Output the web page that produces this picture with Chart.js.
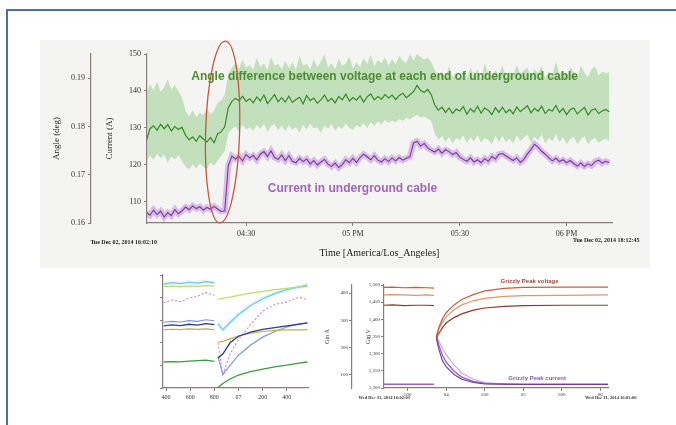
<!DOCTYPE html>
<html>
<head>
<meta charset="utf-8">
<script src="https://cdn.jsdelivr.net/npm/chart.js@4.4.0/dist/chart.umd.min.js"></script>
<style>
  body { margin: 0; width: 676px; height: 425px; background: #fff; position: relative; overflow: hidden; }
  #frame { position: absolute; left: 6px; top: 9px; width: 680px; height: 430px; border-top: 2px solid #4a6bb8; border-left: 2px solid #4a6bb8; }
  #panel { position: absolute; left: 40px; top: 40px; width: 610px; height: 228px; background: #f4f4f3; }
  canvas { position: absolute; }
  #main { left: 40px; top: 40px; width: 632px; height: 228px; }
  #swing { left: 150px; top: 270px; width: 172px; height: 135px; }
  #surge { left: 318px; top: 270px; width: 347px; height: 135px; }
</style>
</head>
<body>
<div id="frame"></div>
<div id="panel"></div>
<canvas id="main" width="632" height="228"></canvas>
<canvas id="swing" width="172" height="135"></canvas>
<canvas id="surge" width="347" height="135"></canvas>
<script>
  // ---- main chart: minutes after 16:00 ----
  const minutes = [
    2, 3, 4, 5, 6, 7, 8, 9, 10, 11,
    12, 13, 14, 15, 16, 17, 18, 19, 20, 21,
    22, 23, 24, 25, 26, 27, 28, 29, 30, 31,
    32, 33, 34, 35, 36, 37, 38, 39, 40, 41,
    42, 43, 44, 45, 46, 47, 48, 49, 50, 51,
    52, 53, 54, 55, 56, 57, 58, 59, 60, 61,
    62, 63, 64, 65, 66, 67, 68, 69, 70, 71,
    72, 73, 74, 75, 76, 77, 78, 79, 80, 81,
    82, 83, 84, 85, 86, 87, 88, 89, 90, 91,
    92, 93, 94, 95, 96, 97, 98, 99, 100, 101,
    102, 103, 104, 105, 106, 107, 108, 109, 110, 111,
    112, 113, 114, 115, 116, 117, 118, 119, 120, 121,
    122, 123, 124, 125, 126, 127, 128, 129, 130, 131,
    132
  ];

  const angleLine = [
    126.5, 129.8, 130.6, 129.4, 131.0, 129.8, 130.9, 129.2, 130.4, 129.6,
    130.2, 128.0, 126.8, 127.6, 126.4, 127.9, 127.0, 126.2, 127.4, 126.0,
    128.4, 129.0, 130.3, 135.5, 137.2, 138.0, 137.4, 138.6, 137.2, 137.9,
    136.8, 138.4, 137.3, 138.9, 136.6, 137.8, 139.0, 137.1, 138.2, 137.0,
    138.6, 136.9, 137.7, 138.3, 136.5, 138.8, 137.4, 138.1, 136.7, 137.6,
    138.9, 137.2, 138.0, 136.8, 138.5, 137.6, 139.1, 137.3, 138.2, 137.5,
    138.7, 137.0, 138.4, 139.2, 137.6, 138.5, 137.8, 139.0, 138.1, 138.9,
    137.7, 138.8, 139.4, 138.2, 139.0, 139.8, 141.5, 140.2, 139.6, 140.4,
    139.0, 136.2, 134.8, 135.6, 134.2, 135.4, 133.9, 135.1, 134.6, 135.8,
    133.7, 135.2, 134.3, 135.9, 134.0, 135.4, 134.8, 133.6, 135.5, 134.2,
    135.6, 134.1, 135.0, 133.8, 135.7, 134.4, 135.2, 136.0, 134.1, 135.3,
    134.5, 135.9, 133.9, 135.0, 134.6, 136.1, 134.2, 135.3, 133.6, 134.9,
    135.4, 133.8, 134.7, 135.6, 133.5, 134.8, 135.2, 133.9, 134.6, 135.0,
    134.4
  ];

  const angleHigh = [
    139.5, 141.8, 140.2, 142.5, 139.8, 141.0, 143.2, 140.4, 141.6, 139.9,
    138.2, 134.6, 133.2, 134.8, 132.9, 134.1, 133.5, 135.2, 133.8, 134.6,
    136.8, 137.5, 139.0, 144.5, 146.2, 147.8, 145.9, 148.4, 146.3, 147.1,
    145.8, 148.9, 146.4, 147.5, 145.6, 149.2, 146.8, 147.3, 145.9, 148.1,
    146.2, 147.8, 145.7, 149.5, 146.9, 147.4, 145.8, 148.6, 146.5, 147.9,
    150.0, 146.3, 147.6, 145.9, 148.7, 146.8, 147.4, 149.3, 146.1, 147.8,
    146.5, 148.9, 147.2, 149.8, 146.7, 148.3, 147.5, 149.1, 146.9, 148.6,
    147.3, 149.5, 148.1, 147.6, 150.0, 148.4, 150.0, 149.2, 148.5, 149.0,
    147.8, 145.6, 143.9, 145.2, 143.4, 146.8, 143.7, 144.9, 142.8, 145.5,
    143.6, 146.2, 144.1, 145.8, 143.2, 147.5, 144.6, 143.9, 145.7, 144.3,
    146.9, 143.8, 145.2, 144.0, 147.1, 144.5, 145.6, 146.3, 143.7, 145.9,
    144.8, 146.7, 143.5, 145.3, 144.2, 148.0, 144.6, 145.5, 143.9, 146.4,
    145.1, 143.6, 146.8, 145.0, 143.7, 145.9, 146.6, 144.2, 145.3, 144.8,
    145.0
  ];

  const angleLow = [
    120.8, 122.6, 121.4, 123.0, 121.8, 122.9, 120.6, 122.3, 121.5, 122.7,
    121.0, 119.6, 118.8, 120.2, 119.1, 120.4, 119.5, 118.9, 120.6, 119.8,
    121.2, 122.5, 123.8, 128.6, 129.8, 130.4, 129.1, 130.9, 129.6, 130.2,
    129.3, 130.8, 129.7, 131.2, 128.9, 130.5, 131.0, 129.4, 130.6, 129.2,
    130.7, 129.5, 130.3, 128.8, 130.9, 129.6, 131.1, 129.9, 130.2, 128.7,
    130.6, 129.8, 131.0, 129.3, 130.4, 129.7, 131.2, 130.0, 129.5, 130.8,
    130.1, 131.3, 129.9, 131.6, 130.5, 131.8, 130.9, 132.2, 131.4, 132.0,
    131.5, 132.4, 131.9, 132.8, 132.3, 133.0, 133.6, 132.8, 133.1, 132.5,
    131.9, 128.4, 126.9, 127.8, 126.2, 127.6, 125.8, 127.3, 126.7, 128.0,
    125.9, 127.5, 126.4, 128.1, 126.0, 127.2, 126.8, 125.6, 127.9, 126.3,
    127.8, 126.1, 127.2, 125.7, 128.0, 126.5, 127.4, 128.2, 126.0, 127.6,
    126.7, 128.3, 125.8, 127.3, 126.5, 128.4, 126.2, 127.5, 125.6, 127.0,
    127.6, 125.7, 126.9, 127.8, 125.5, 126.8, 127.3, 125.9, 126.7, 127.1,
    126.5
  ];

  const currentLine = [
    107.2, 106.4, 107.8, 106.6, 107.5, 105.9, 107.1, 106.3, 107.9, 106.8,
    107.6, 108.6, 107.9, 108.9, 108.2, 108.7, 107.8, 108.5, 108.0, 108.8,
    108.1, 107.4, 107.6, 119.8, 122.4, 121.6, 122.3, 121.1, 122.8, 121.9,
    122.6, 121.4, 122.9, 123.6, 122.3, 123.8, 122.0, 121.5, 122.7, 121.2,
    122.5, 121.0, 120.6, 121.8, 120.9, 121.6, 120.3, 121.2, 120.0, 120.8,
    121.5, 120.2, 119.6, 120.5, 119.3, 120.1, 121.4, 120.6, 121.8, 120.7,
    122.0, 122.9, 122.2, 121.4, 122.5, 121.3, 120.8, 121.7, 120.9, 121.9,
    121.1, 122.0, 121.3, 121.8, 122.2, 125.9, 126.4, 125.1, 125.8, 124.6,
    124.0, 123.5, 124.3, 123.2, 124.1, 123.6, 122.8, 123.4, 122.1, 121.5,
    121.0, 121.9, 120.8, 121.4, 120.6, 121.7, 121.0, 122.3, 121.6, 122.9,
    123.1, 122.4, 121.8, 121.2, 121.9, 120.7, 121.5, 123.0, 124.2, 125.6,
    124.8, 123.7, 122.9, 122.0, 121.1, 121.8, 120.9, 121.4, 120.6, 121.2,
    120.4, 119.7, 120.5, 119.6, 120.3, 119.8, 120.9, 121.3, 120.5, 121.0,
    120.6
  ];

  const timeTicks = [30, 60, 90, 120];
  const timeTickLabels = ['04:30', '05 PM', '05:30', '06 PM'];
  const currentTicks = [110, 120, 130, 140, 150];
  const angleTicks = [0.16, 0.17, 0.18, 0.19];

  const angleNote = 'Angle difference between voltage at each end of underground cable';
  const currentNote = 'Current in underground cable';
  const startStamp = 'Tue Dec 02, 2014 16:02:10';
  const endStamp = 'Tue Dec 02, 2014 18:12:45';

  // ---- lower left: many feeders around the switching event (seconds) ----
  const swingTimes = [6.38, 6.45, 6.52, 6.59, 6.66, 6.73, 6.80, 6.815, 6.83, 6.87, 6.93, 7.0, 7.1, 7.2, 7.3, 7.4, 7.5, 7.57];
  const swingCyan   = [92.0, 93.2, 92.4, 93.6, 92.8, 94.2, 93.0, null, 57.0, 51.5, 58.0, 65.0, 73.0, 79.0, 83.5, 87.0, 89.5, 91.0];
  const swingLime   = [89.8, 90.2, 89.6, 90.4, 89.9, 90.6, 90.1, null, 78.5, 79.4, 80.5, 82.0, 84.0, 85.6, 87.0, 88.2, 89.2, 89.7];
  const swingPink   = [75.5, 77.8, 76.4, 79.6, 81.2, 84.6, 82.0, null, 40.0, 12.0, 30.0, 43.0, 56.0, 68.0, 74.0, 76.0, 80.5, 78.0];
  const swingBlue   = [58.2, 59.0, 58.4, 59.6, 58.9, 60.4, 59.5, null, 28.0, 12.0, 20.0, 29.0, 38.0, 45.0, 50.0, 54.0, 56.5, 57.5];
  const swingNavy   = [55.0, 55.9, 55.2, 56.4, 55.6, 57.0, 56.0, null, 26.5, 30.0, 40.0, 45.8, 49.5, 51.8, 53.5, 55.0, 56.5, 57.6];
  const swingOlive  = [51.5, 52.0, 51.7, 52.3, 51.8, 52.4, 51.6, null, 40.5, 41.2, 43.5, 46.0, 48.5, 50.0, 51.0, 51.4, 51.5, 51.6];
  const swingGreen  = [23.0, 23.4, 23.1, 23.8, 24.2, 24.6, 23.5, null, 0.5, 4.0, 8.0, 11.5, 14.5, 16.8, 18.6, 20.2, 22.0, 23.0];
  const swingTicks = [6.4, 6.6, 6.8, 7.0, 7.2, 7.4];
  const swingTickLabels = ['400', '600', '800', '07', '200', '400'];

  // ---- lower right: Grizzly Peak voltage and current ----
  const surgeTimes = [3.19, 3.3, 3.45, 3.6, 3.75, 3.84, 3.855, 3.87, 3.9, 3.95, 4.0, 4.1, 4.2, 4.35, 4.5, 4.75, 5.0, 5.5, 6.1];
  const voltRed    = [1493, 1494, 1492, 1493, 1492, 1491, null, 1350, 1375, 1402, 1420, 1442, 1458, 1472, 1483, 1490, 1493, 1494, 1494];
  const voltOrange = [1471, 1472, 1471, 1470, 1471, 1470, null, 1350, 1370, 1392, 1408, 1428, 1442, 1454, 1461, 1467, 1469, 1470, 1471];
  const voltBrown  = [1441, 1442, 1440, 1441, 1441, 1440, null, 1345, 1358, 1376, 1390, 1405, 1416, 1427, 1433, 1438, 1440, 1441, 1441];
  const ampLight   = [null, null, null, null, null, null, null, 246, 225, 195, 172, 135, 105, 82, 70, 65, 64, 64, 64];
  const ampMid     = [64, 64, 64, 64, 64, 64, null, 240, 210, 170, 145, 112, 90, 74, 67, 65, 64, 64, 64];
  const ampDark    = [null, null, null, null, null, null, null, 233, 195, 150, 128, 100, 82, 70, 65, 64, 63, 63, 63];
  const surgeTicks = [3.5, 4, 4.5, 5, 5.5, 6];
  const surgeTickLabels = ['500', '04', '500', '05', '500', '06'];
  const voltTicks = [1200, 1250, 1300, 1350, 1400, 1450, 1500];
  const ampTicks = [100, 200, 300, 400];

  Chart.defaults.font.family = '"Liberation Serif", "DejaVu Serif", serif';
  Chart.defaults.color = '#333';
  Chart.defaults.animation = false;
  Chart.defaults.plugins.legend.display = false;
  Chart.defaults.plugins.tooltip.enabled = false;
  Chart.defaults.elements.point.radius = 0;

  const axisColor = '#8a7c76';

  function pts(xs, ys) {
    return xs.map((x, i) => ({x: x, y: ys[i]}));
  }

  function sideAxis(opts) {
    return Object.assign({
      grid: {drawOnChartArea: false, drawTicks: true, tickLength: 3, color: axisColor},
      border: {color: axisColor, width: 1.2},
    }, opts);
  }

  const mainNotes = {
    id: 'mainNotes',
    afterDatasetsDraw(chart) {
      const {ctx, chartArea} = chart;
      const x = chart.scales.x, y = chart.scales.y;
      ctx.save();
      ctx.textBaseline = 'middle';
      ctx.font = 'bold 12px "Liberation Sans", Arial, sans-serif';
      ctx.fillStyle = '#4d8c32';
      ctx.fillText(angleNote, x.getPixelForValue(14.6), y.getPixelForValue(144.0), 438);
      ctx.fillStyle = '#a466b6';
      ctx.fillText(currentNote, x.getPixelForValue(36.1), y.getPixelForValue(113.6), 190);

      ctx.beginPath();
      ctx.ellipse(x.getPixelForValue(23.4), y.getPixelForValue(128.9), 17, 91, 0.03, 0, Math.PI * 2);
      ctx.strokeStyle = '#c9553f';
      ctx.lineWidth = 1.3;
      ctx.stroke();

      ctx.font = 'bold 6px "Liberation Serif", serif';
      ctx.fillStyle = '#222';
      ctx.textAlign = 'right';
      ctx.fillText(startStamp, chartArea.left + 10, chartArea.bottom + 19);
      ctx.textAlign = 'left';
      ctx.fillText(endStamp, chartArea.right - 39, chartArea.bottom + 17);
      ctx.restore();
    }
  };

  new Chart(document.getElementById('main'), {
    type: 'line',
    data: {
      datasets: [
        {data: pts(minutes, currentLine), borderColor: '#77389a', borderWidth: 1.1, yAxisID: 'y'},
        {data: pts(minutes, angleLine), borderColor: '#348a24', borderWidth: 1.2, yAxisID: 'y'},
        {data: pts(minutes, currentLine), borderColor: 'rgba(205,165,224,0.7)', borderWidth: 6, yAxisID: 'y'},
        {data: pts(minutes, angleHigh), borderWidth: 0, fill: '+1', backgroundColor: 'rgba(160,210,150,0.6)', yAxisID: 'y'},
        {data: pts(minutes, angleLow), borderWidth: 0, fill: false, yAxisID: 'y'}
      ]
    },
    options: {
      responsive: false,
      layout: {padding: {left: 5, top: 14, right: 60, bottom: 0}},
      scales: {
        x: sideAxis({
          type: 'linear', min: 2.17, max: 132.75,
          afterBuildTicks: (s) => { s.ticks = timeTicks.map(v => ({value: v})); },
          afterFit: (s) => { s.height = 45; },
          ticks: {font: {size: 8}, maxRotation: 0, callback: (v) => timeTickLabels[timeTicks.indexOf(v)]},
          title: {display: true, text: 'Time [America/Los_Angeles]', font: {size: 10}, color: '#222', padding: {top: 0, bottom: 9}}
        }),
        y: sideAxis({
          position: 'left', weight: 0, min: 104.3, max: 150,
          afterBuildTicks: (s) => { s.ticks = currentTicks.map(v => ({value: v})); },
          afterFit: (s) => { s.width = 56; },
          ticks: {font: {size: 8}},
          title: {display: true, text: 'Current (A)', font: {size: 9}, color: '#222', padding: {top: 13, bottom: 0}}
        }),
        angle: sideAxis({
          position: 'left', weight: 1, min: 0.16, max: 0.195,
          afterBuildTicks: (s) => { s.ticks = angleTicks.map(v => ({value: v})); },
          afterFit: (s) => { s.width = 46; },
          ticks: {font: {size: 8}, callback: (v) => v.toFixed(2)},
          title: {display: true, text: 'Angle (deg)', font: {size: 9}, color: '#222', padding: {top: 6, bottom: 0}}
        })
      }
    },
    plugins: [mainNotes]
  });

  new Chart(document.getElementById('swing'), {
    type: 'line',
    data: {
      datasets: [
        {data: pts(swingTimes, swingGreen), borderColor: '#3c9a40', borderWidth: 1.3},
        {data: pts(swingTimes, swingNavy), borderColor: '#2b3a92', borderWidth: 1.3},
        {data: pts(swingTimes, swingOlive), borderColor: '#bcb24a', borderWidth: 1.2},
        {data: pts(swingTimes, swingBlue), borderColor: '#8095e0', borderWidth: 1.2},
        {data: pts(swingTimes, swingPink), borderColor: '#e07fb8', borderWidth: 1.1, borderDash: [2, 2]},
        {data: pts(swingTimes, swingLime), borderColor: '#c6d865', borderWidth: 1.3},
        {data: pts(swingTimes, swingCyan), borderColor: '#6fcbe8', borderWidth: 1.2},
        {data: pts(swingTimes, swingCyan), borderColor: 'rgba(185,230,246,0.45)', borderWidth: 4}
      ]
    },
    options: {
      responsive: false,
      layout: {padding: {left: 0, top: 5, right: 14, bottom: 0}},
      scales: {
        x: sideAxis({
          type: 'linear', min: 6.375, max: 7.575,
          afterBuildTicks: (s) => { s.ticks = swingTicks.map(v => ({value: v})); },
          afterFit: (s) => { s.height = 17; },
          ticks: {font: {size: 6}, maxRotation: 0, callback: (v) => swingTickLabels[swingTicks.indexOf(v)]}
        }),
        y: sideAxis({
          min: 0, max: 100,
          afterBuildTicks: (s) => { s.ticks = [0, 20, 40, 60, 80, 100].map(v => ({value: v})); },
          afterFit: (s) => { s.width = 13; },
          ticks: {display: false}
        })
      }
    }
  });

  const surgeNotes = {
    id: 'surgeNotes',
    afterDatasetsDraw(chart) {
      const {ctx, chartArea} = chart;
      const x = chart.scales.x, a = chart.scales.amp;
      ctx.save();
      ctx.textAlign = 'center';
      ctx.textBaseline = 'middle';
      ctx.font = 'bold 6px "Liberation Sans", Arial, sans-serif';
      ctx.fillStyle = '#a4473a';
      ctx.fillText('Grizzly Peak voltage', x.getPixelForValue(5.08), chartArea.top - 4);
      ctx.fillStyle = '#8b58b8';
      ctx.fillText('Grizzly Peak current', x.getPixelForValue(5.18), a.getPixelForValue(87));
      ctx.font = 'bold 4.5px "Liberation Serif", serif';
      ctx.fillStyle = '#333';
      ctx.textAlign = 'right';
      ctx.fillText('Wed Dec 31, 2014 16:02:03', chartArea.left + 26, chartArea.bottom + 10);
      ctx.textAlign = 'left';
      ctx.fillText('Wed Dec 31, 2014 16:02:06', chartArea.right - 23, chartArea.bottom + 10);
      ctx.restore();
    }
  };

  new Chart(document.getElementById('surge'), {
    type: 'line',
    data: {
      datasets: [
        {data: pts(surgeTimes, voltRed), borderColor: '#cf5a3e', borderWidth: 1.2, yAxisID: 'y'},
        {data: pts(surgeTimes, voltOrange), borderColor: '#e0956a', borderWidth: 1.2, yAxisID: 'y'},
        {data: pts(surgeTimes, voltBrown), borderColor: '#8e3b2c', borderWidth: 1.2, yAxisID: 'y'},
        {data: pts(surgeTimes, ampDark), borderColor: '#6b3d94', borderWidth: 1.1, yAxisID: 'amp'},
        {data: pts(surgeTimes, ampMid), borderColor: '#9a63c8', borderWidth: 1.4, yAxisID: 'amp'},
        {data: pts(surgeTimes, ampLight), borderColor: '#c7a4e2', borderWidth: 1.1, yAxisID: 'amp'}
      ]
    },
    options: {
      responsive: false,
      layout: {padding: {left: 3, top: 15, right: 57, bottom: 0}},
      scales: {
        x: sideAxis({
          type: 'linear', min: 3.19, max: 6.1,
          afterBuildTicks: (s) => { s.ticks = surgeTicks.map(v => ({value: v})); },
          afterFit: (s) => { s.height = 17; },
          ticks: {font: {size: 5}, maxRotation: 0, padding: 1, callback: (v) => surgeTickLabels[surgeTicks.indexOf(v)]}
        }),
        y: sideAxis({
          position: 'left', weight: 0, min: 1200, max: 1500,
          afterBuildTicks: (s) => { s.ticks = voltTicks.map(v => ({value: v})); },
          afterFit: (s) => { s.width = 32; },
          ticks: {font: {size: 5}, padding: 1, callback: (v) => v.toLocaleString('en-US')},
          title: {display: true, text: 'Gin V', font: {size: 6}, color: '#333', padding: {top: 13, bottom: 0}}
        }),
        amp: sideAxis({
          position: 'left', weight: 1, min: 50, max: 430,
          afterBuildTicks: (s) => { s.ticks = ampTicks.map(v => ({value: v})); },
          afterFit: (s) => { s.width = 31; },
          ticks: {font: {size: 5}, padding: 1},
          title: {display: true, text: 'Gin A', font: {size: 6}, color: '#333', padding: {top: 3, bottom: 0}}
        })
      }
    },
    plugins: [surgeNotes]
  });
</script>
</body>
</html>
